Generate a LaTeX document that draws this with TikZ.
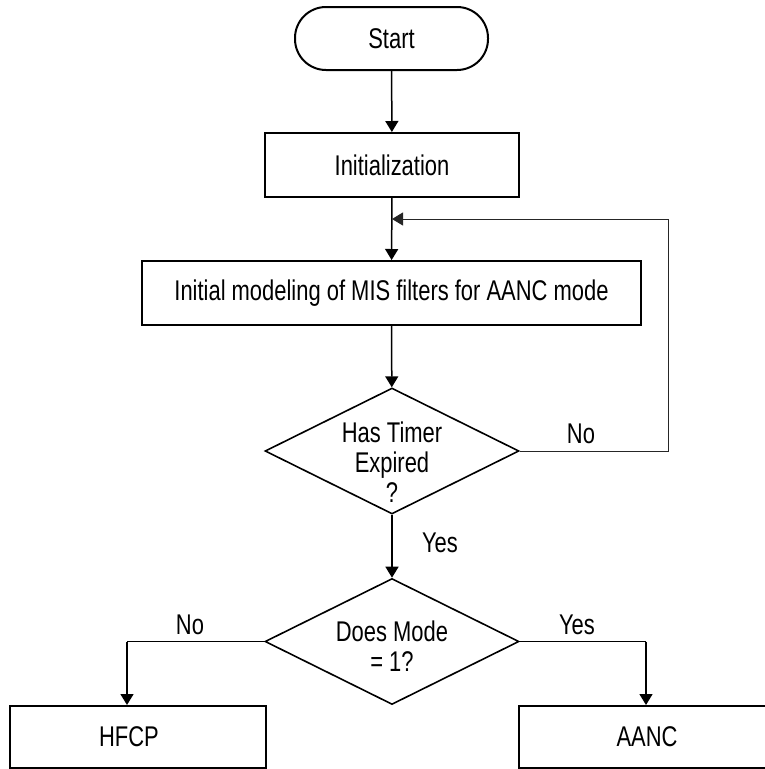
\documentclass[tikz,border=0pt]{standalone}
\usepackage{fontspec}
\setmainfont{Liberation Sans}[FakeStretch=0.77]
\usetikzlibrary{shapes.geometric,arrows.meta}
\begin{document}
\begin{tikzpicture}[x=1pt,y=-1pt,
  txt/.style={font=\fontsize{28.5}{30}\selectfont, inner sep=0pt},
  box/.style={draw, line width=2pt, inner sep=0pt, font=\fontsize{28.5}{30}\selectfont},
  dia/.style={diamond, draw, line width=1.6pt, inner sep=0pt, minimum width=254pt, minimum height=126pt},
  conn/.style={line width=1.5pt, -{Triangle[length=11pt,width=13pt]}},
  plain/.style={line width=1.5pt},
  back/.style={line width=1pt, black!85, -{Triangle[length=11pt,width=13pt]}}]
\useasboundingbox (0,0) rectangle (764,769);

\node[box, rounded corners=31pt, minimum width=193pt, minimum height=63pt] (start) at (391.5,38.5) {Start};
\node[box, minimum width=254pt, minimum height=64pt] (init) at (392,165) {Initialization};
\node[box, minimum width=499pt, minimum height=64pt] (model) at (391.5,293) {Initial modeling of MIS filters for AANC mode};
\node[dia] (d1) at (392,451) {};
\node[txt, align=center] (d1t) at (392,462) {Has Timer\\Expired\\?};
\node[dia] (d2) at (392,641.5) {};
\node[txt, align=center] (d2t) at (392,646) {Does Mode\\= 1?};
\node[box, minimum width=256pt, minimum height=62pt] (hfcp) at (138,737) {};
\node[txt] (hfcpt) at (129,737) {HFCP};
\node[box, minimum width=256pt, minimum height=62pt] (aanc) at (647,737) {AANC};

\coordinate (fbr) at (668,219);
\coordinate (fbl) at (392,219);
\coordinate (nl) at (127,641.5);
\coordinate (nr) at (646,641.5);

\draw[conn] (start) -- (init);
\draw[conn] (init) -- (model);
\draw[conn] (model) -- (d1);
\draw[conn] (d1) -- (d2);
\draw[back] (d1.east) -| (fbr) -- (fbl);
\draw[plain] (d2.west) -- (nl);
\draw[conn] (nl) -- (nl |- hfcp.north);
\draw[plain] (d2.east) -- (nr);
\draw[conn] (nr) -- (nr |- aanc.north);

\node[txt] (no1) at (581,434) {No};
\node[txt] (yes1) at (440,543) {Yes};
\node[txt] (no2) at (190,625) {No};
\node[txt] (yes2) at (577,625) {Yes};
\end{tikzpicture}
\end{document}
